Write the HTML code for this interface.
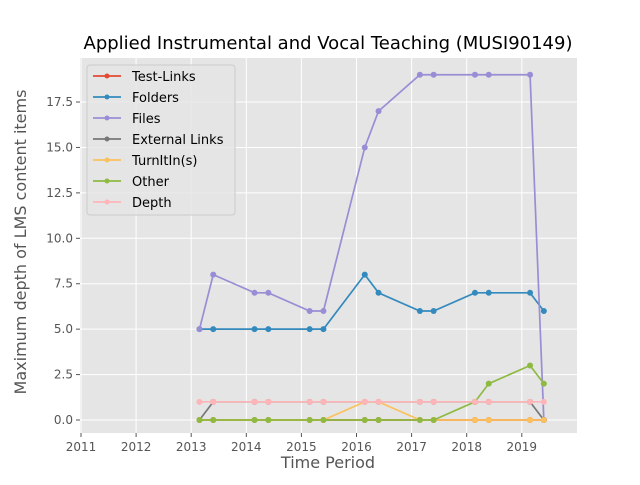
<!DOCTYPE html>
<html><head><meta charset="utf-8"><style>
body{margin:0;background:#fff;}
svg text{font-family:"DejaVu Sans","Liberation Sans",sans-serif;}
</style></head><body>
<svg id="chart" width="640" height="480" xmlns="http://www.w3.org/2000/svg">
<rect x="0" y="0" width="640" height="480" fill="#fff"/>
<text x="328" y="49" text-anchor="middle" font-size="18" fill="#000">Applied Instrumental and Vocal Teaching (MUSI90149)</text>
<rect x="80" y="58" width="497" height="375" fill="#E5E5E5"/>
<g id="grid"></g>
<g id="ticks"></g>
<g id="series"></g>
<text x="328" y="468" text-anchor="middle" font-size="16" fill="#555">Time Period</text>
<text transform="translate(31,242) rotate(-90)" text-anchor="middle" font-size="16" fill="#555" x="0" y="0" dx="0" dy="-5">Maximum depth of LMS content items</text>
<g id="legend"></g>
</svg>
<script>
const xYears = [2013.15,2013.4,2014.15,2014.4,2015.15,2015.4,2016.15,2016.4,2017.15,2017.4,2018.15,2018.4,2019.15,2019.4];
const seriesNames = ["Test-Links","Folders","Files","External Links","TurnItIn(s)","Other","Depth"];
const seriesColors = ["#E24A33","#348ABD","#988ED5","#777777","#FBC15E","#8EBA42","#FFB5B8"];
const testLinks = [0,0,0,0,0,0,0,0,0,0,0,0,0,0];
const folders = [5,5,5,5,5,5,8,7,6,6,7,7,7,6];
const files = [5,8,7,7,6,6,15,17,19,19,19,19,19,0];
const externalLinks = [0,1,1,1,1,1,1,1,1,1,1,1,1,0];
const turnitin = [0,0,0,0,0,0,1,1,0,0,0,0,0,0];
const other = [0,0,0,0,0,0,0,0,0,0,1,2,3,2];
const depth = [1,1,1,1,1,1,1,1,1,1,1,1,1,1];
const xTickLabels = ["2011","2012","2013","2014","2015","2016","2017","2018","2019"];
const yTickLabels = ["0.0","2.5","5.0","7.5","10.0","12.5","15.0","17.5"];

const NS="http://www.w3.org/2000/svg";
const xs = y => 81 + (y-2011)*55.1;
const ys = v => 420 - v*18.17;
function mk(tag, attrs, parent){const e=document.createElementNS(NS,tag);for(const k in attrs)e.setAttribute(k,attrs[k]);parent.appendChild(e);return e;}
const grid=document.getElementById('grid'), ticks=document.getElementById('ticks'), ser=document.getElementById('series'), leg=document.getElementById('legend');
xTickLabels.forEach(l=>{
  const x=xs(parseFloat(l));
  const g=mk('line',{x1:x,x2:x,y1:58,y2:433,stroke:'#fff','stroke-width':1},grid);
  
  
  mk('line',{x1:x,x2:x,y1:433,y2:437,stroke:'#555'},ticks);
  const t=mk('text',{x:x,y:451,'text-anchor':'middle','font-size':12,fill:'#555'},ticks);
  t.textContent=l;
  
  
});
yTickLabels.forEach(l=>{
  const y=ys(parseFloat(l));
  const g=mk('line',{x1:80,x2:577,y1:y,y2:y,stroke:'#fff','stroke-width':1},grid);
  
  
  mk('line',{x1:76,x2:80,y1:y,y2:y,stroke:'#555'},ticks);
  const t=mk('text',{x:73,y:y+4,'text-anchor':'end','font-size':12,fill:'#555'},ticks);
  t.textContent=l;
  
  
});
const allSeries=[testLinks,folders,files,externalLinks,turnitin,other,depth];
allSeries.forEach((vals,i)=>{
  const g=mk('g',{},ser);
  
  
  const pts=vals.map((v,j)=>xs(xYears[j])+','+ys(v)).join(' ');
  mk('polyline',{points:pts,fill:'none',stroke:seriesColors[i],'stroke-width':1.7},g);
  vals.forEach((v,j)=>{
    const c=mk('circle',{cx:xs(xYears[j]),cy:ys(v),r:3,fill:seriesColors[i]},g);
    
    
  });
});
const lb=mk('rect',{x:87,y:65,width:148,height:150,rx:3,fill:'#E5E5E5',stroke:'#ccc','fill-opacity':0.8},leg);


seriesNames.forEach((n,i)=>{
  const y=76+i*21;
  const g=mk('g',{},leg);
  
  
  mk('line',{x1:93,x2:121,y1:y,y2:y,stroke:seriesColors[i],'stroke-width':1.7},g);
  mk('circle',{cx:107,cy:y,r:2.5,fill:seriesColors[i]},g);
  const t=mk('text',{x:132,y:y+5,'font-size':13,fill:'#000'},g);
  t.textContent=n;
});
</script>
</body></html>
